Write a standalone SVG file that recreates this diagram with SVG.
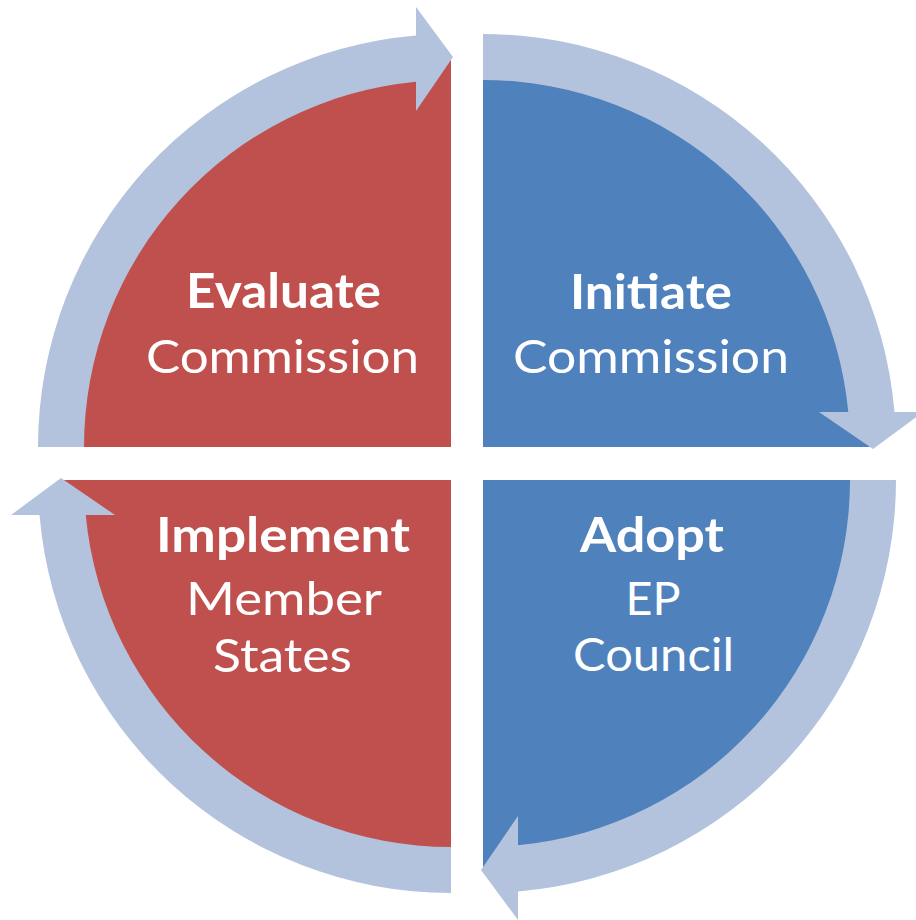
<svg xmlns="http://www.w3.org/2000/svg" width="916" height="920" viewBox="0 0 916 920">
  <defs>
    <style>
      .red { fill: #C0504D; }
      .blue { fill: #4F81BD; }
      .arrow { fill: #B3C3DD; }
      .t { font-family: Lato, "Open Sans", "Liberation Sans", sans-serif; font-size: 47px; fill: #FFFFFF; text-anchor: middle; }
      .b { font-weight: 700; }
    </style>
    <path id="pie" d="M0 0 L-388 0 A388 388 0 0 1 0 -388 Z"/>
    <path id="arc" d="M-413 0 A413 413 0 0 1 -35 -411.5 L-35 -440 L2 -390 L-35 -336 L-35 -365.3 A367 367 0 0 0 -367 0 Z"/>
  </defs>
  <rect x="0" y="0" width="916" height="920" fill="#FFFFFF"/>

  <g id="evaluate">
    <use href="#pie" class="red" transform="translate(451,447)"/>
    <text class="t b" x="283.5" y="308" textLength="195" lengthAdjust="spacingAndGlyphs">Evaluate</text>
    <text class="t" x="282.5" y="373" textLength="273" lengthAdjust="spacingAndGlyphs">Commission</text>
  </g>
  <g id="initiate">
    <use href="#pie" class="blue" transform="translate(483,447) rotate(90)"/>
    <text class="t b" x="651" y="309" textLength="162" lengthAdjust="spacingAndGlyphs">Initiate</text>
    <text class="t" x="651" y="373" textLength="276" lengthAdjust="spacingAndGlyphs">Commission</text>
  </g>
  <g id="adopt">
    <use href="#pie" class="blue" transform="translate(483,480) rotate(180)"/>
    <text class="t b" x="652" y="552" textLength="144" lengthAdjust="spacingAndGlyphs">Adopt</text>
    <text class="t" x="653" y="615" textLength="55" lengthAdjust="spacingAndGlyphs">EP</text>
    <text class="t" x="653.5" y="671" textLength="161" lengthAdjust="spacingAndGlyphs">Council</text>
  </g>
  <g id="implement">
    <use href="#pie" class="red" transform="translate(451,480) rotate(270)"/>
    <text class="t b" x="283" y="552" textLength="254" lengthAdjust="spacingAndGlyphs">Implement</text>
    <text class="t" x="284" y="615" textLength="196" lengthAdjust="spacingAndGlyphs">Member</text>
    <text class="t" x="282.5" y="672" textLength="139" lengthAdjust="spacingAndGlyphs">States</text>
  </g>

  <g id="connectors">
    <use href="#arc" class="arrow" transform="translate(451,447)"/>
    <use href="#arc" class="arrow" transform="translate(483,447) rotate(90)"/>
    <use href="#arc" class="arrow" transform="translate(483,480) rotate(180)"/>
    <use href="#arc" class="arrow" transform="translate(451,480) rotate(270)"/>
  </g>
</svg>
